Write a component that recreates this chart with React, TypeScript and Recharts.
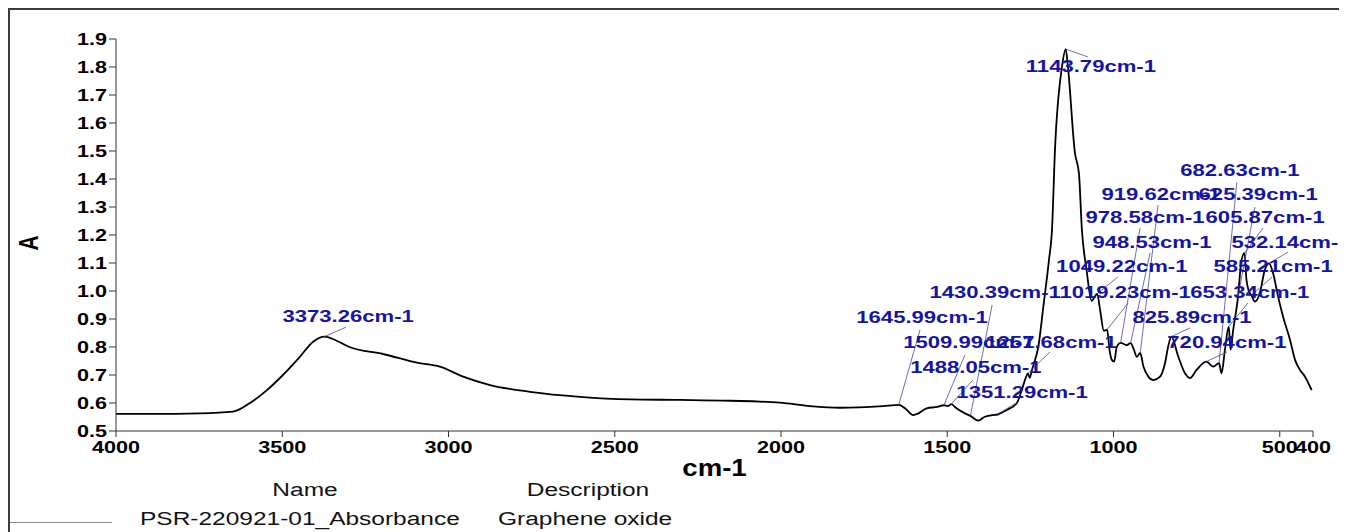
import React from 'react'
import { LineChart, Line, XAxis, YAxis, ReferenceLine, ReferenceDot, Label } from 'recharts'

// FTIR spectrum (wavenumber in cm-1, absorbance)
const wavenumbers = [
  4000, 3898, 3747, 3648, 3597, 3546, 3498, 3447, 3407, 3373.26, 3341, 3296, 3197, 3095, 3026,
  2956, 2875, 2755, 2604, 2454, 2304, 2153, 2003, 1913, 1823, 1693, 1645.99, 1627, 1602, 1587,
  1562, 1530, 1509.99, 1498, 1488.05, 1472, 1447, 1430.39, 1407, 1387, 1362, 1351.29, 1341, 1321,
  1291, 1276, 1264, 1257.68, 1252, 1246, 1241, 1226, 1211, 1194, 1185, 1176, 1155, 1143.79, 1137,
  1116, 1104, 1095, 1081, 1066, 1049.22, 1040, 1029, 1019.23, 1012, 1005, 998, 990, 978.58, 960,
  948.53, 940, 930, 919.62, 910, 895, 880, 860, 845, 835, 825.89, 805, 785, 770, 750, 720.94, 700,
  682.63, 675, 665, 653.34, 648, 640, 625.39, 615, 605.87, 600, 590, 585.21, 575, 560, 545, 532.14,
  520, 505, 490, 469, 454, 439, 424, 404,
]
const absorbance = [
  0.561, 0.561, 0.563, 0.569, 0.6, 0.646, 0.7, 0.765, 0.819, 0.837, 0.825, 0.799, 0.775, 0.744, 0.73,
  0.694, 0.664, 0.64, 0.622, 0.613, 0.611, 0.608, 0.601, 0.589, 0.583, 0.589, 0.593, 0.581, 0.557, 0.563,
  0.581, 0.586, 0.592, 0.589, 0.596, 0.581, 0.563, 0.554, 0.537, 0.551, 0.557, 0.558, 0.563, 0.575,
  0.599, 0.646, 0.69, 0.706, 0.69, 0.715, 0.735, 0.801, 0.944, 1.111, 1.218, 1.504, 1.8, 1.864, 1.8,
  1.493, 1.421, 1.218, 1.075, 0.965, 0.99, 0.93, 0.858, 0.862, 0.79, 0.754, 0.748, 0.801, 0.815, 0.807,
  0.814, 0.795, 0.765, 0.779, 0.73, 0.694, 0.682, 0.694, 0.743, 0.805, 0.837, 0.765, 0.706, 0.689, 0.718, 0.748, 0.73,
  0.742, 0.706, 0.789, 0.873, 0.79, 0.861, 0.98, 1.111, 1.135, 1.039, 0.992, 0.985, 0.962, 0.992, 1.075, 1.099,
  1.063, 0.98, 0.908, 0.825, 0.754, 0.718, 0.694, 0.646,
]

// marked peaks
const peakWavenumbers = [
  3373.26, 1645.99, 1509.99, 1488.05, 1430.39, 1351.29, 1257.68, 1143.79, 1049.22, 1019.23, 978.58,
  948.53, 919.62, 825.89, 720.94, 682.63, 653.34, 625.39, 605.87, 585.21, 532.14,
]
const peakAbsorbance = [
  0.837, 0.593, 0.592, 0.596, 0.554, 0.558, 0.706, 1.864, 0.99, 0.862, 0.815,
  0.814, 0.779, 0.837, 0.748, 0.742, 0.873, 0.98, 1.135, 0.985, 1.099,
]

const wnTicks = [4000, 3500, 3000, 2500, 2000, 1500, 1000, 500, 400]
const absTicks = [0.5, 0.6, 0.7, 0.8, 0.9, 1.0, 1.1, 1.2, 1.3, 1.4, 1.5, 1.6, 1.7, 1.8, 1.9]

const legendName = 'PSR-220921-01_Absorbance'
const legendDescription = 'Graphene oxide'

// layout: where each peak label is centred and where its leader line stops (chart units)
const labelAt: [number, number][] = [
  [3302, 0.911], [1576, 0.907], [1435, 0.818], [1414, 0.729], [1356, 0.996], [1275, 0.639],
  [1188, 0.818], [1068, 1.804], [975, 1.089], [965, 0.996], [905, 1.264], [884, 1.175],
  [857, 1.346], [764, 0.907], [659, 0.818], [620, 1.432], [590, 0.996], [565, 1.346],
  [544, 1.264], [520, 1.089], [466, 1.175],
]
const leaderTo: [number, number][] = [
  [3308, 0.871], [1582, 0.861], [1447, 0.771], [1423, 0.682], [1365, 0.95], [1287, 0.604],
  [1191, 0.782], [1077, 1.836], [987, 1.05], [956, 0.957], [920, 1.225], [890, 1.136],
  [866, 1.307], [770, 0.868], [659, 0.782], [629, 1.389], [596, 0.957], [575, 1.3],
  [550, 1.225], [523, 1.05], [475, 1.139],
]

const spectrum = wavenumbers.map((wn, i) => ({ wn, a: absorbance[i] }))

const ARIAL = "'Liberation Sans', Arial, sans-serif"
const BLUE = '#1414a6'
const AXIS = '#333'

function XTick({ x, y, payload }: any) {
  return (
    <text
      transform={`translate(${x},${y}) scale(1.35,1)`}
      dy="0.8em" textAnchor="middle"
      fontFamily={ARIAL} fontWeight="bold" fontSize={16} fill="#000"
    >
      {payload.value}
    </text>
  )
}

function YTick({ x, y, payload }: any) {
  return (
    <text
      transform={`translate(${x},${y}) scale(1.35,1)`}
      dy="0.36em" textAnchor="end"
      fontFamily={ARIAL} fontWeight="bold" fontSize={16} fill="#000"
    >
      {Number(payload.value).toFixed(1)}
    </text>
  )
}

const peakText = (wn: number) => (p: any) => (
  <text
    transform={`translate(${p.cx},${p.cy}) scale(1.3,1)`}
    dy="0.36em" textAnchor="middle"
    fontFamily={ARIAL} fontWeight="bold" fontSize={17} fill={BLUE}
  >
    {`${wn.toFixed(2)}cm-1`}
  </text>
)

const legendText: React.CSSProperties = {
  position: 'absolute', fontFamily: ARIAL, fontSize: 18, color: '#111',
  whiteSpace: 'nowrap', lineHeight: '20px',
}

export default function App() {
  return (
    <div style={{
      position: 'relative', width: 1336, height: 530, border: '2px solid #3c3c3c',
      boxSizing: 'border-box', background: '#fff', overflow: 'hidden',
    }}>
      <div style={{ position: 'absolute', left: 0, top: 0 }}>
        <LineChart width={1332} height={480} data={spectrum} margin={{ top: 29, right: 29, bottom: 0, left: 0 }}>
          <XAxis
            dataKey="wn" type="number" domain={[400, 4000]} reversed allowDataOverflow
            ticks={wnTicks} interval={0} tickSize={6} tickMargin={3} height={59}
            tick={<XTick />} stroke={AXIS}
          >
            <Label content={({ viewBox }: any) => (
              <text
                transform={`translate(${viewBox.x + viewBox.width / 2},${viewBox.y + 37}) scale(1.2,1)`}
                dy="0.36em" textAnchor="middle"
                fontFamily={ARIAL} fontWeight="bold" fontSize={23} fill="#000"
              >cm-1</text>
            )} />
          </XAxis>
          <YAxis
            type="number" domain={[0.5, 1.9]} allowDataOverflow ticks={absTicks} interval={0}
            tickSize={7} tickMargin={2} width={106} tick={<YTick />} stroke={AXIS}
          >
            <Label content={({ viewBox }: any) => (
              <text
                transform={`translate(${viewBox.x + 18},${viewBox.y + viewBox.height / 2 + 8}) scale(1.3,1) rotate(-90)`}
                dy="0.36em" textAnchor="middle"
                fontFamily={ARIAL} fontWeight="bold" fontSize={21} fill="#000"
              >A</text>
            )} />
          </YAxis>
          <Line
            type="monotone" dataKey="a" stroke="#000" strokeWidth={1.8}
            dot={false} activeDot={false} isAnimationActive={false}
          />
          {peakWavenumbers.map((wn, i) => (
            <ReferenceLine
              key={'l' + wn}
              segment={[{ x: wn, y: peakAbsorbance[i] }, { x: leaderTo[i][0], y: leaderTo[i][1] }]}
              stroke="#4848a4" strokeWidth={0.8} ifOverflow="visible"
            />
          ))}
          {peakWavenumbers.map((wn, i) => (
            <ReferenceDot
              key={'t' + wn} x={labelAt[i][0]} y={labelAt[i][1]} r={0}
              ifOverflow="visible" shape={peakText(wn)}
            />
          ))}
        </LineChart>
      </div>

      <div style={{ ...legendText, left: 295, top: 470, transform: 'translateX(-50%) scaleX(1.36)' }}>Name</div>
      <div style={{ ...legendText, left: 578, top: 470, transform: 'translateX(-50%) scaleX(1.36)' }}>Description</div>
      <div style={{ ...legendText, left: 130, top: 499, transformOrigin: 'left center', transform: 'scaleX(1.36)' }}>{legendName}</div>
      <div style={{ ...legendText, left: 488, top: 499, transformOrigin: 'left center', transform: 'scaleX(1.36)' }}>{legendDescription}</div>
      <div style={{ position: 'absolute', left: 0, top: 512, width: 102, height: 1, background: '#8a8a8a' }} />
    </div>
  )
}
